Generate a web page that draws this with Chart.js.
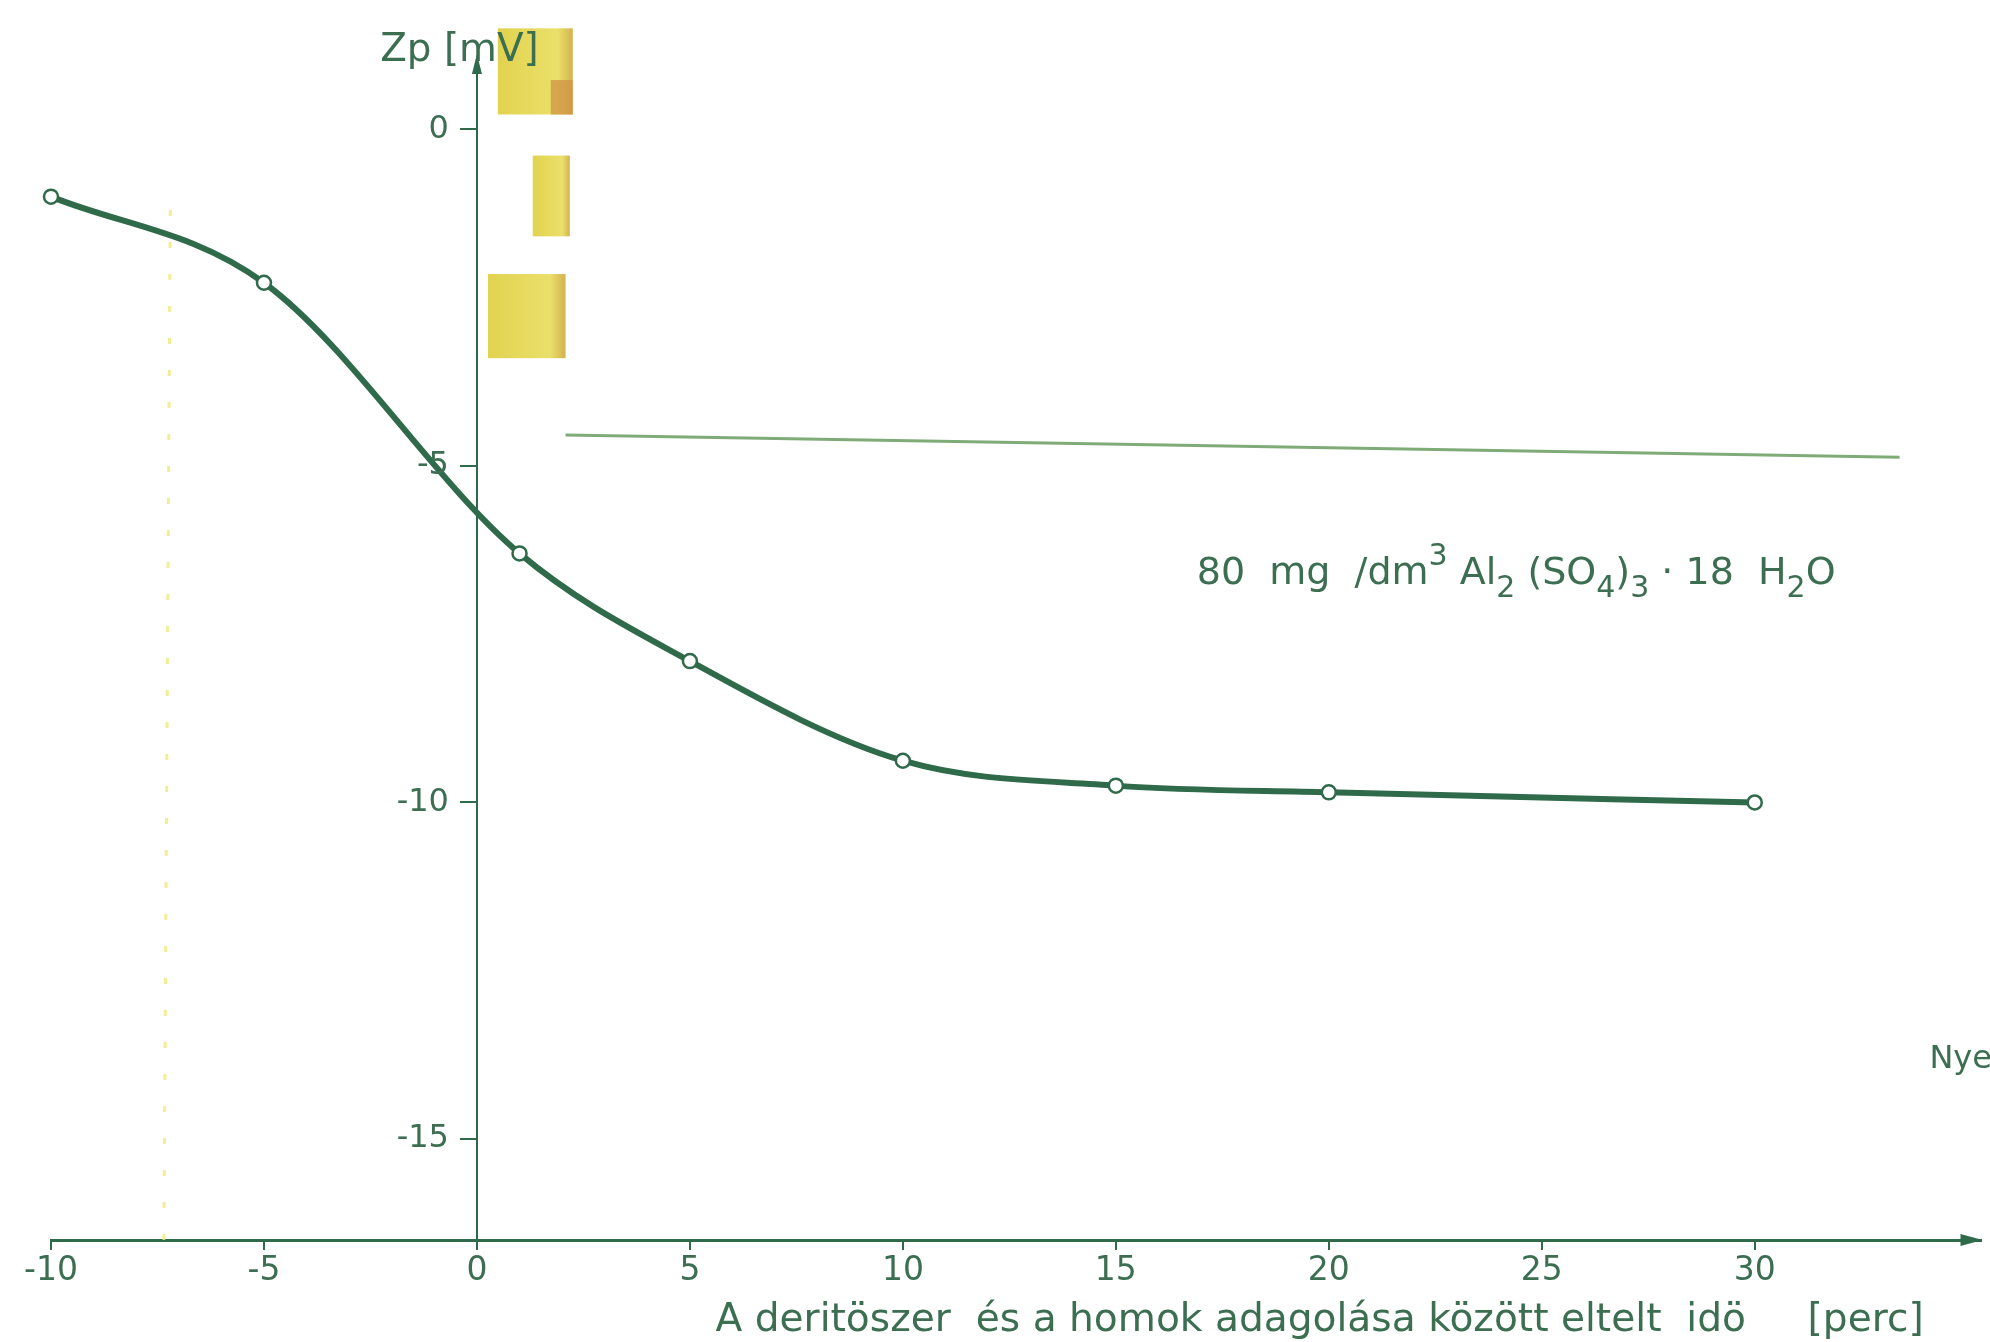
<!DOCTYPE html>
<html>
<head>
<meta charset="utf-8">
<script src="https://cdn.jsdelivr.net/npm/chart.js@4/dist/chart.umd.min.js"></script>
<style>
  html, body { margin: 0; padding: 0; background: #fff; }
  #wrap { width: 1990px; height: 1342px; position: relative; }
</style>
</head>
<body>
<div id="wrap"><canvas id="zp-chart"></canvas></div>
<script>
const timeMinutes = [-10, -5, 1, 5, 10, 15, 20, 30];
const zetaPotential = [-1.0, -2.28, -6.3, -7.9, -9.38, -9.75, -9.85, -10.0];
const xTickValues = [-10, -5, 0, 5, 10, 15, 20, 25, 30];
const yTickValues = [0, -5, -10, -15];
const yAxisTitle = "Zp [mV]";
const xAxisTitle = "A deritöszer  és a homok adagolása között eltelt  idö";
const xAxisUnit = "[perc]";
const doseParts = [
  ["80  mg  /dm", ""], ["3", "sup"], [" Al", ""], ["2", "sub"], [" (SO", ""], ["4", "sub"],
  [")", ""], ["3", "sub"], [" · 18  H", ""], ["2", "sub"], ["O", ""]
];
const edgeNote = "Nye";

const INK = "#2f6a4a";
const TEXT = "#3c6e52";
const FONT = "'DejaVu Sans', 'Liberation Sans', sans-serif";

// font size that makes text span the given pixel width
const fitSize = (ctx, text, width) => {
  ctx.font = "40px " + FONT;
  return 40 * width / ctx.measureText(text).width;
};

// scan leftovers: yellow tape strips, faint ruler line, dotted yellow guide
const scanMarks = {
  id: "scanMarks",
  beforeDatasetsDraw(chart) {
    const { ctx, scales: { x, y } } = chart;
    ctx.save();
    const strips = [[0.49, 2.25, 1.5, 0.22], [1.31, 2.18, -0.39, -1.59], [0.26, 2.08, -2.15, -3.4]];
    strips.forEach(([x0, x1, y0, y1], i) => {
      const px0 = x.getPixelForValue(x0), px1 = x.getPixelForValue(x1);
      const py0 = y.getPixelForValue(y0), py1 = y.getPixelForValue(y1);
      const g = ctx.createLinearGradient(px0, 0, px1, 0);
      g.addColorStop(0, "rgba(222,206,60,0.9)");
      g.addColorStop(0.8, "rgba(232,220,90,0.9)");
      g.addColorStop(1, "rgba(205,170,60,0.9)");
      ctx.fillStyle = g;
      ctx.fillRect(px0, py0, px1 - px0, py1 - py0);
      if (i === 0) {
        ctx.fillStyle = "rgba(210,150,70,0.8)";
        ctx.fillRect(px1 - 22, py0 + (py1 - py0) * 0.6, 22, (py1 - py0) * 0.4);
      }
    });
    ctx.strokeStyle = "rgba(95,150,85,0.8)";
    ctx.lineWidth = 3;
    ctx.beginPath();
    ctx.moveTo(x.getPixelForValue(2.08), y.getPixelForValue(-4.54));
    ctx.lineTo(x.getPixelForValue(33.4), y.getPixelForValue(-4.87));
    ctx.stroke();
    ctx.strokeStyle = "rgba(240,232,120,0.8)";
    ctx.lineWidth = 3;
    ctx.setLineDash([6, 26]);
    ctx.beginPath();
    ctx.moveTo(x.getPixelForValue(-7.2), y.getPixelForValue(-1.2));
    ctx.lineTo(x.getPixelForValue(-7.35), y.getPixelForValue(-16.5));
    ctx.stroke();
    ctx.restore();
  }
};

const labelsAndArrows = {
  id: "labelsAndArrows",
  afterDraw(chart) {
    const { ctx, scales: { x, y } } = chart;
    ctx.save();
    ctx.fillStyle = INK;
    // axis arrowheads
    const ax = x.getPixelForValue(0), ay = y.top;
    ctx.beginPath();
    ctx.moveTo(ax, ay - 8); ctx.lineTo(ax - 5, ay + 12); ctx.lineTo(ax + 5, ay + 12); ctx.closePath(); ctx.fill();
    const bx = x.right, by = y.bottom;
    ctx.beginPath();
    ctx.moveTo(bx + 2, by); ctx.lineTo(bx - 20, by - 6); ctx.lineTo(bx - 20, by + 6); ctx.closePath(); ctx.fill();

    ctx.fillStyle = TEXT;
    // y tick labels, placed left of the tick dashes
    ctx.font = "32px " + FONT;
    ctx.textAlign = "right";
    ctx.textBaseline = "middle";
    y.ticks.forEach(t => ctx.fillText(String(t.value), ax - 28, y.getPixelForValue(t.value)));

    ctx.textBaseline = "alphabetic";
    ctx.textAlign = "left";
    const zpLeft = x.getPixelForValue(-2.27);
    ctx.font = fitSize(ctx, yAxisTitle, x.getPixelForValue(1.45) - zpLeft) + "px " + FONT;
    ctx.fillText(yAxisTitle, zpLeft, y.getPixelForValue(1.02));

    const titleLeft = x.getPixelForValue(5.6);
    const titleSize = fitSize(ctx, xAxisTitle, x.getPixelForValue(29.8) - titleLeft);
    ctx.font = titleSize + "px " + FONT;
    ctx.fillText(xAxisTitle, titleLeft, y.getPixelForValue(-17.85));
    ctx.fillText(xAxisUnit, x.getPixelForValue(31.24), y.getPixelForValue(-17.85));

    ctx.font = "32px " + FONT;
    ctx.fillText(edgeNote, x.getPixelForValue(34.1), y.getPixelForValue(-13.95));

    // dose annotation with sub/superscripts
    let px = x.getPixelForValue(16.9);
    const base = y.getPixelForValue(-6.75);
    doseParts.forEach(([txt, kind]) => {
      const size = kind ? 30 : 38;
      ctx.font = size + "px " + FONT;
      const dy = kind === "sub" ? 13 : kind === "sup" ? -19 : 0;
      ctx.fillText(txt, px, base + dy);
      px += ctx.measureText(txt).width;
    });
    ctx.restore();
  }
};

new Chart(document.getElementById("zp-chart"), {
  type: "line",
  data: {
    datasets: [{
      data: timeMinutes.map((t, i) => ({ x: t, y: zetaPotential[i] })),
      borderColor: INK,
      borderWidth: 6,
      cubicInterpolationMode: "monotone",
      pointRadius: 7,
      pointBackgroundColor: "#fff",
      pointBorderColor: INK,
      pointBorderWidth: 2.5,
      clip: false
    }]
  },
  options: {
    responsive: true,
    maintainAspectRatio: false,
    animation: false,
    layout: { padding: { left: 51, right: 4, top: 62, bottom: 102 } },
    plugins: { legend: { display: false }, tooltip: { enabled: false } },
    scales: {
      x: {
        type: "linear",
        min: -10,
        max: 35.3,
        position: { y: -16.5 },
        afterBuildTicks: (scale) => { scale.ticks = xTickValues.map(v => ({ value: v })); },
        border: { display: true, color: INK, width: 3 },
        grid: { display: true, drawOnChartArea: false, drawTicks: true, tickLength: 8, color: INK, lineWidth: 2 },
        ticks: { color: TEXT, font: { family: FONT, size: 33 }, padding: 4 }
      },
      y: {
        type: "linear",
        min: -16.5,
        max: 1,
        position: { x: 0 },
        afterBuildTicks: (scale) => { scale.ticks = yTickValues.map(v => ({ value: v })); },
        border: { display: true, color: INK, width: 2 },
        grid: { display: true, drawOnChartArea: false, drawTicks: true, tickLength: 16, color: INK, lineWidth: 2 },
        ticks: { display: false }
      }
    }
  },
  plugins: [scanMarks, labelsAndArrows]
});
</script>
</body>
</html>
